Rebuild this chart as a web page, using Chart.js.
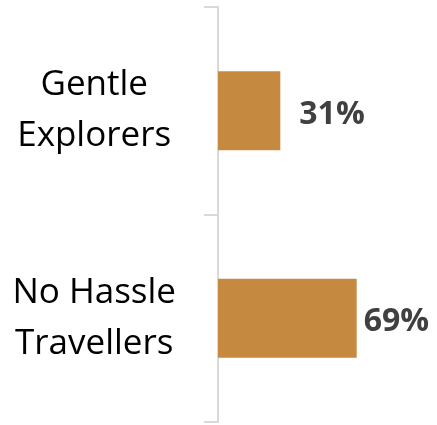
<!DOCTYPE html>
<html>
<head>
<meta charset="utf-8">
<script src="https://cdn.jsdelivr.net/npm/chart.js@4/dist/chart.umd.min.js"></script>
<style>
html,body{margin:0;padding:0;background:#fff;}
#wrap{width:437px;height:425px;position:relative;}
</style>
</head>
<body>
<div id="wrap"><canvas id="c" width="437" height="425"></canvas></div>
<script>
const categories = [["Gentle", "Explorers"], ["No Hassle", "Travellers"]];
const values = [31, 69];
const valueLabels = ["31%", "69%"];

const valueLabelPlugin = {
  id: 'valueLabels',
  afterDatasetsDraw(chart, args, opts) {
    const ctx = chart.ctx;
    const meta = chart.getDatasetMeta(0);
    ctx.save();
    ctx.font = 'bold 32px "Open Sans"';
    ctx.fillStyle = '#404040';
    ctx.textAlign = 'left';
    ctx.textBaseline = 'middle';
    meta.data.forEach((bar, i) => {
      ctx.fillText(valueLabels[i], bar.x + opts.gaps[i], bar.y + 4);
    });
    ctx.restore();
  }
};

new Chart(document.getElementById('c'), {
  type: 'bar',
  data: {
    labels: categories,
    datasets: [{
      data: values,
      backgroundColor: '#C68940',
      borderWidth: 0,
      barPercentage: 0.38,
      categoryPercentage: 1
    }]
  },
  options: {
    indexAxis: 'y',
    responsive: false,
    animation: false,
    layout: { padding: { top: 7, bottom: 3, right: 18, left: 0 } },
    plugins: {
      legend: { display: false },
      tooltip: { enabled: false },
      valueLabels: { gaps: [19, 7] }
    },
    scales: {
      x: { display: false, min: 0, max: 100 },
      y: {
        grid: { offset: true, drawOnChartArea: false, tickLength: 14, color: '#d9d9d9', lineWidth: 2 },
        border: { display: true, color: '#d9d9d9', width: 2 },
        ticks: {
          color: '#000',
          font: { family: 'Open Sans', size: 35, lineHeight: 1.46 },
          crossAlign: 'center',
          padding: 28
        },
        afterFit(scale) { scale.width = 218; scale.paddingTop = 0; scale.paddingBottom = 0; }
      }
    }
  },
  plugins: [valueLabelPlugin]
});
</script>
</body>
</html>
